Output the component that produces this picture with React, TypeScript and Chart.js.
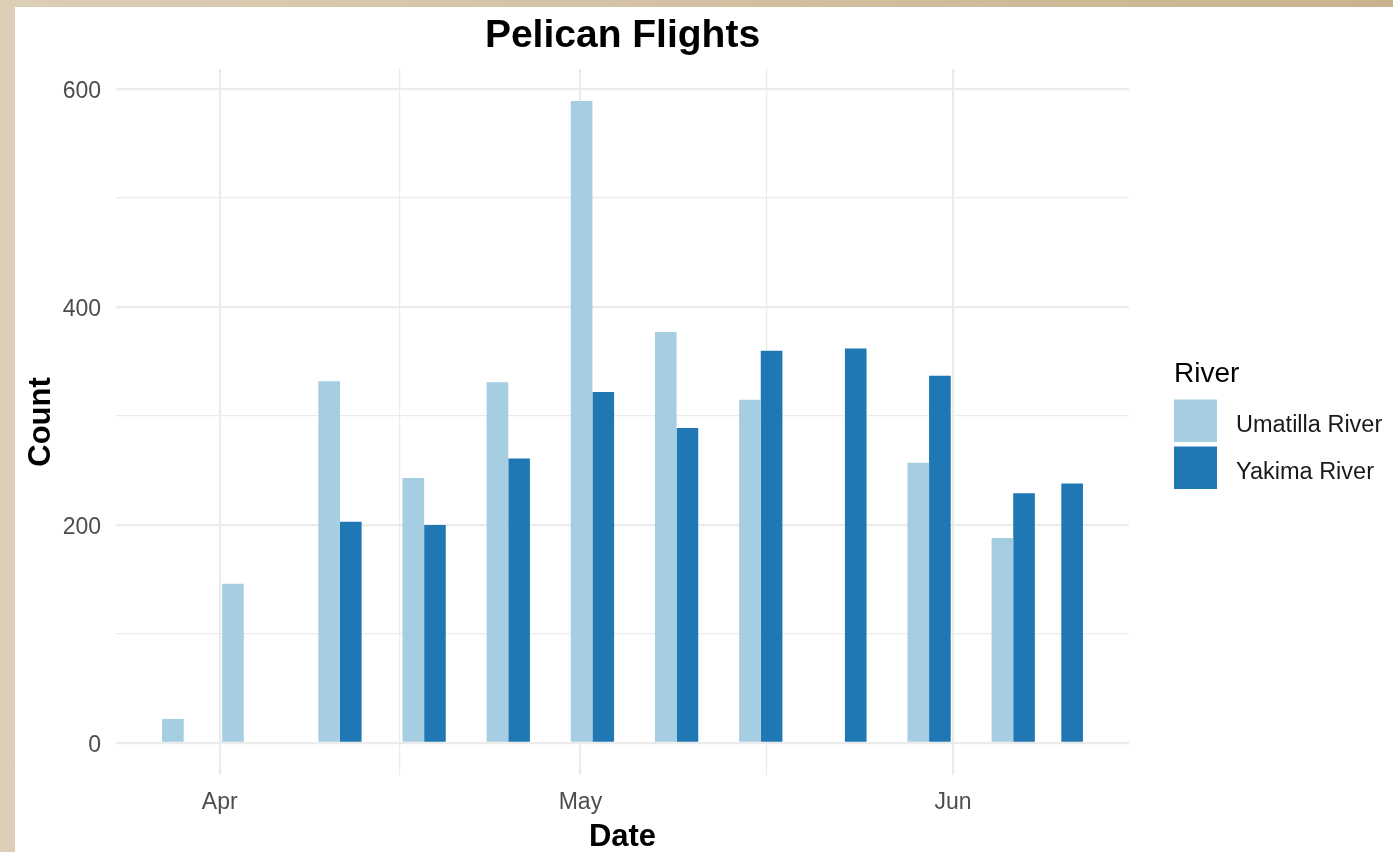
import React, { useEffect, useRef } from "react";
import { Chart, registerables } from "chart.js";

Chart.register(...registerables);

// ---------- data ----------
const TITLE = "Pelican Flights";
const X_TITLE = "Date";
const Y_TITLE = "Count";
const LEGEND_TITLE = "River";
const YEAR = 2019;

const dates = ["03-29", "04-03", "04-11", "04-18", "04-25", "05-02", "05-09", "05-16", "05-23", "05-30", "06-06", "06-10"];
const seriesNames = ["Umatilla River", "Yakima River"];
const umatilla: (number | null)[] = [22, 146, 332, 243, 331, 589, 377, 315, null, 257, 188, null];
const yakima: (number | null)[] = [null, null, 203, 200, 261, 322, 289, 360, 362, 337, 229, 238];
const seriesColors = ["#A6CEE3", "#1F78B4"];

const monthBreaks = ["04-01", "05-01", "06-01"];
const monthLabels = ["Apr", "May", "Jun"];
const yBreaks = [0, 200, 400, 600];

// ---------- helpers ----------
const FONT = "'Liberation Sans', Arial, Helvetica, sans-serif";
const toDay = (md: string) => {
  const [m, d] = md.split("-").map(Number);
  return Date.UTC(YEAR, m - 1, d) / 86400000;
};
const midpoints = (arr: number[]) => arr.slice(1).map((v, i) => (v + arr[i]) / 2);

const xDays = dates.map(toDay);
const xMajor = monthBreaks.map(toDay);
const xMinor = midpoints(xMajor);
const yMinor = midpoints(yBreaks);

// ggplot-like bar width (0.9 * resolution) and 5% expansion
const diffs = xDays.slice(1).map((v, i) => v - xDays[i]);
const resolution = Math.min(...diffs);
const halfDodge = (0.9 * resolution) / 2;
const xLo0 = Math.min(...xDays) - halfDodge;
const xHi0 = Math.max(...xDays) + halfDodge;
const xPad = 0.05 * (xHi0 - xLo0);
const allVals = [...umatilla, ...yakima].filter((v) => v !== null) as number[];
const yLo0 = 0;
const yHi0 = Math.max(...allVals);
const yPad = 0.05 * (yHi0 - yLo0);

const decorPlugin = {
  id: "decor",
  afterDraw(chart: any) {
    const { ctx, chartArea } = chart;
    const cx = (chartArea.left + chartArea.right) / 2;
    const cy = (chartArea.top + chartArea.bottom) / 2;
    ctx.save();
    ctx.fillStyle = "#000000";
    ctx.textBaseline = "alphabetic";
    ctx.textAlign = "center";
    ctx.font = `bold 39px ${FONT}`;
    ctx.fillText(TITLE, cx, 47);
    ctx.font = `bold 31px ${FONT}`;
    ctx.fillText(X_TITLE, cx, 846);
    ctx.save();
    ctx.translate(49.5, cy);
    ctx.rotate(-Math.PI / 2);
    ctx.fillText(Y_TITLE, 0, 0);
    ctx.restore();

    // legend
    const lx = chartArea.right + 45;
    ctx.textAlign = "left";
    ctx.fillStyle = "#000000";
    ctx.font = `28px ${FONT}`;
    ctx.fillText(LEGEND_TITLE, lx, 382);
    chart.data.datasets.forEach((ds: any, i: number) => {
      const top = 399.5 + i * 47;
      ctx.fillStyle = ds.backgroundColor;
      ctx.fillRect(lx, top, 43, 42.5);
      ctx.fillStyle = "#1a1a1a";
      ctx.font = `23.5px ${FONT}`;
      ctx.fillText(ds.label, lx + 62, top + 32);
    });
    ctx.restore();
  },
};

export default function App() {
  const ref = useRef<HTMLCanvasElement | null>(null);

  useEffect(() => {
    if (!ref.current) return;
    const series = [umatilla, yakima];
    const chart = new Chart(ref.current, {
      type: "bar",
      data: {
        datasets: series.map((vals, s) => ({
          label: seriesNames[s],
          data: xDays.map((x, i) => ({ x, y: vals[i] })),
          backgroundColor: seriesColors[s],
          borderWidth: 0,
          categoryPercentage: 0.9,
          barPercentage: 1.0,
        })),
      },
      options: {
        responsive: false,
        devicePixelRatio: 1,
        animation: false,
        layout: { padding: { left: 0, top: 69, right: 264, bottom: 0 } },
        plugins: {
          legend: { display: false },
          title: { display: false },
          tooltip: { enabled: false },
        },
        scales: {
          x: {
            type: "linear",
            offset: false,
            min: xLo0 - xPad,
            max: xHi0 + xPad,
            afterFit: (scale: any) => {
              scale.height = 77;
            },
            afterBuildTicks: (scale: any) => {
              scale.ticks = [...xMajor, ...xMinor].sort((a, b) => a - b).map((v) => ({ value: v }));
            },
            ticks: {
              autoSkip: false,
              maxRotation: 0,
              padding: 14,
              color: "#4D4D4D",
              font: { family: FONT, size: 23 },
              callback: (v: any) => {
                const idx = xMajor.indexOf(Number(v));
                return idx >= 0 ? monthLabels[idx] : "";
              },
            },
            grid: {
              offset: false,
              drawTicks: false,
              color: "#EBEBEB",
              lineWidth: (c: any) => (c.tick && xMajor.includes(c.tick.value) ? 2.2 : 1.2),
            },
            border: { display: false },
          },
          y: {
            type: "linear",
            min: yLo0 - yPad,
            max: yHi0 + yPad,
            afterFit: (scale: any) => {
              scale.width = 116;
            },
            afterBuildTicks: (scale: any) => {
              scale.ticks = [...yBreaks, ...yMinor].sort((a, b) => a - b).map((v) => ({ value: v }));
            },
            ticks: {
              autoSkip: false,
              padding: 15,
              labelOffset: 2.5,
              color: "#4D4D4D",
              font: { family: FONT, size: 23 },
              callback: (v: any) => (yBreaks.includes(Number(v)) ? String(v) : ""),
            },
            grid: {
              drawTicks: false,
              color: "#EBEBEB",
              lineWidth: (c: any) => (c.tick && yBreaks.includes(c.tick.value) ? 2.2 : 1.2),
            },
            border: { display: false },
          },
        },
      },
      plugins: [decorPlugin],
    } as any);
    return () => chart.destroy();
  }, []);

  return (
    <div
      style={{
        position: "fixed",
        left: 0,
        top: 0,
        width: 1393,
        height: 852,
        background: "linear-gradient(to right, #DCCFB7, #C8B38D)",
        overflow: "hidden",
      }}
    >
      <div style={{ position: "absolute", left: 15, top: 7, right: 0, bottom: 0, background: "#FFFFFF" }} />
      <canvas ref={ref} width={1393} height={852} style={{ position: "absolute", left: 0, top: 0, width: 1393, height: 852 }} />
    </div>
  );
}
